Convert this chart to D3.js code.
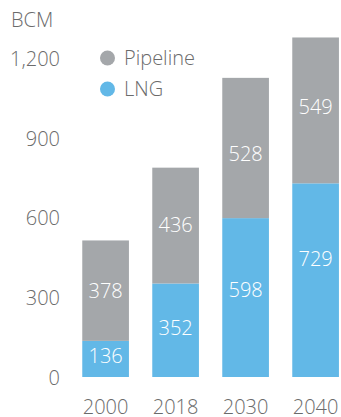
<!DOCTYPE html>
<html>
<head>
<meta charset="utf-8">
<script src="https://cdn.jsdelivr.net/npm/d3@7"></script>
<style>
  html, body { margin: 0; padding: 0; background: #fff; }
  svg text { font-family: "Open Sans", sans-serif; font-weight: 300; }
</style>
</head>
<body>
<svg id="chart" width="341" height="417"></svg>
<script>
// Gas trade volumes by route, billion cubic metres
const years = ["2000", "2018", "2030", "2040"];
const lng = [136, 352, 598, 729];
const pipeline = [378, 436, 528, 549];
const yTicks = [0, 300, 600, 900, 1200];
const seriesNames = ["Pipeline", "LNG"];
const unitLabel = "BCM";

// label nudges (px) so values sit where they read best in each segment
const lngLabelShift = [-3, -2, -8, -21];
const pipeLabelShift = [0, -1, 6, -4];

const colors = { Pipeline: "#a4a7aa", LNG: "#62b8e7" };
const textGray = "#6b6b6b";
const fontSize = 20;

const svg = d3.select("#chart");

const x = d3.scaleBand()
  .domain(years)
  .range([70.6, 350.6])
  .paddingInner(1 / 3)
  .paddingOuter(1 / 6);

const y = d3.scaleLinear()
  .domain([0, 1200])
  .range([377, 58.2]);

const fmt = d3.format(",");

// y axis labels
const yAxis = d3.axisLeft(y).tickValues(yTicks).tickFormat(fmt).tickSize(0).tickPadding(0);
const gy = svg.append("g").attr("transform", "translate(60,0)").call(yAxis);
gy.select(".domain").remove();
gy.selectAll("text")
  .attr("fill", textGray)
  .style("font-size", fontSize + "px")
  .attr("dy", null)
  .attr("y", fontSize * 0.357);

// x axis labels
const xAxis = d3.axisBottom(x).tickSize(0).tickPadding(0);
const gx = svg.append("g").attr("transform", "translate(0,406.5)").call(xAxis);
gx.select(".domain").remove();
gx.selectAll("text")
  .attr("fill", textGray)
  .style("font-size", fontSize + "px")
  .attr("dy", null)
  .attr("y", fontSize * 0.357);

// unit label
svg.append("text")
  .attr("x", 11)
  .attr("y", 20 + fontSize * 0.357)
  .attr("fill", textGray)
  .style("font-size", fontSize + "px")
  .text(unitLabel);

// stacked bars
const rows = years.map((yr, i) => ({ year: yr, LNG: lng[i], Pipeline: pipeline[i] }));
const stack = d3.stack().keys(["LNG", "Pipeline"]);
const layers = stack(rows);

const shifts = { LNG: lngLabelShift, Pipeline: pipeLabelShift };

layers.forEach(layer => {
  const g = svg.append("g");
  g.selectAll("rect")
    .data(layer)
    .join("rect")
    .attr("x", d => x(d.data.year))
    .attr("width", x.bandwidth())
    .attr("y", d => y(d[1]))
    .attr("height", d => y(d[0]) - y(d[1]))
    .attr("fill", colors[layer.key]);

  g.selectAll("text")
    .data(layer)
    .join("text")
    .attr("x", d => x(d.data.year) + x.bandwidth() / 2)
    .attr("y", (d, i) => (y(d[0]) + y(d[1])) / 2 + shifts[layer.key][i] + fontSize * 0.357)
    .attr("text-anchor", "middle")
    .attr("fill", "#ffffff")
    .style("font-size", fontSize + "px")
    .text(d => d.data[layer.key]);
});

// legend
const legend = svg.append("g");
seriesNames.forEach((name, i) => {
  const cy = 58 + i * 31;
  legend.append("circle")
    .attr("cx", 107.5)
    .attr("cy", cy)
    .attr("r", 7.5)
    .attr("fill", colors[name]);
  legend.append("text")
    .attr("x", 124)
    .attr("y", cy + fontSize * 0.357)
    .attr("fill", textGray)
    .style("font-size", fontSize + "px")
    .text(name);
});
</script>
</body>
</html>
